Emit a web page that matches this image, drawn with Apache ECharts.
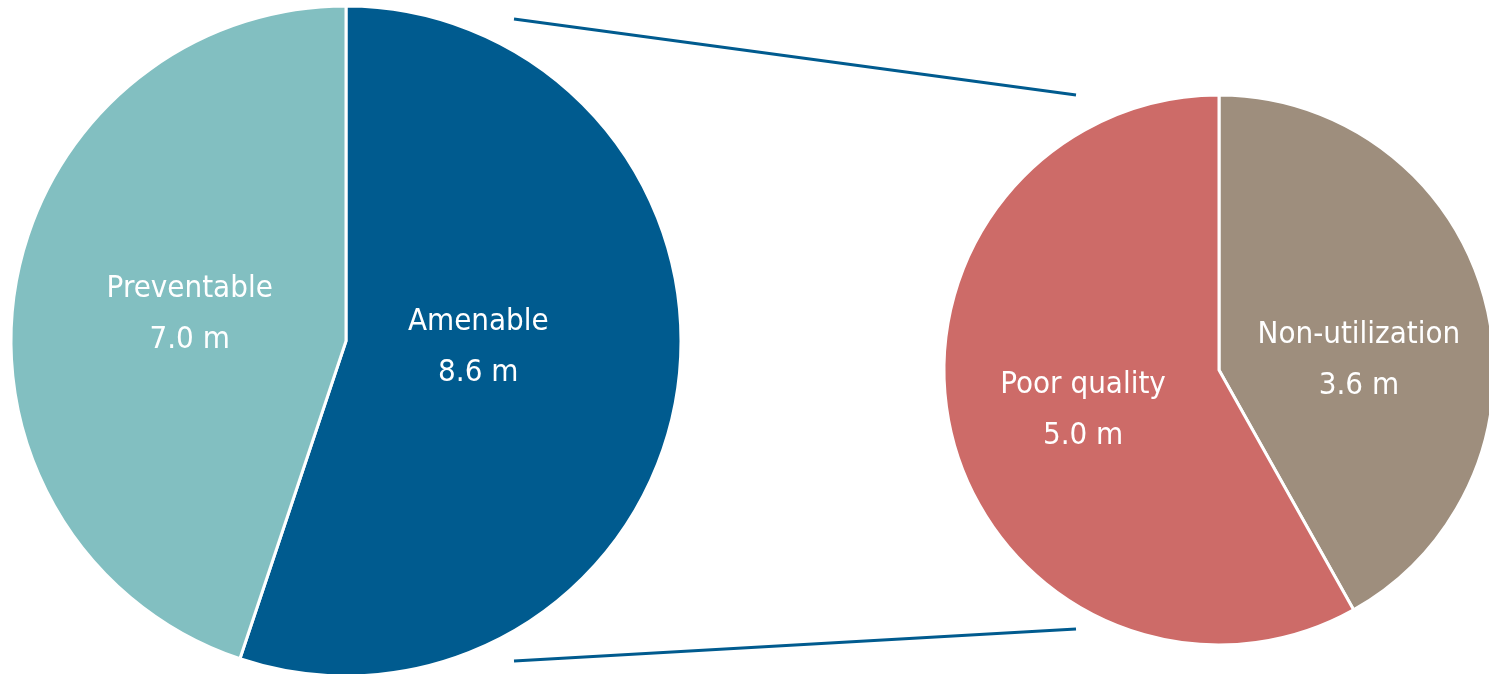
<!DOCTYPE html>
<html>
<head>
<meta charset="utf-8">
<script src="https://cdn.jsdelivr.net/npm/echarts@6/dist/echarts.min.js"></script>
<style>
  html, body { margin: 0; padding: 0; background: #ffffff; }
  #chart { width: 1489px; height: 674px; }
</style>
</head>
<body>
<div id="chart"></div>
<script>
// Deaths (millions): overall split and breakdown of the amenable share
const mainCategories = ['Amenable', 'Preventable'];
const mainValues = [8.6, 7.0];
const detailCategories = ['Non-utilization', 'Poor quality'];
const detailValues = [3.6, 5.0];

const mainColors = ['#005b8f', '#82bfc1'];
const detailColors = ['#9e8e7d', '#cd6b68'];
const labelOffsets = {
  'Amenable': [-36, -21],
  'Preventable': [12, 1],
  'Non-utilization': [4, 26],
  'Poor quality': [0, 5]
};

const FONT = '"DejaVu Sans Condensed", "Liberation Sans Narrow", sans-serif';

function buildData(names, values, colors) {
  return names.map((name, i) => ({
    name: name,
    value: values[i],
    itemStyle: { color: colors[i] },
    label: { offset: labelOffsets[name] }
  }));
}

const labelStyle = {
  show: true,
  position: 'inside',
  color: '#ffffff',
  fontFamily: FONT,
  fontSize: 31,
  lineHeight: 51,
  formatter: p => p.name + '\n' + p.value.toFixed(1) + ' m'
};

const chart = echarts.init(document.getElementById('chart'), null, { renderer: 'canvas' });
chart.setOption({
  backgroundColor: '#ffffff',
  animation: false,
  series: [
    {
      type: 'pie',
      center: [346, 341],
      radius: [0, 335],
      startAngle: 90,
      clockwise: true,
      itemStyle: { borderColor: '#ffffff', borderWidth: 3 },
      label: labelStyle,
      labelLine: { show: false },
      emphasis: { disabled: true },
      data: buildData(mainCategories, mainValues, mainColors)
    },
    {
      type: 'pie',
      center: [1219, 370],
      radius: [0, 275],
      startAngle: 90,
      clockwise: true,
      itemStyle: { borderColor: '#ffffff', borderWidth: 3 },
      label: labelStyle,
      labelLine: { show: false },
      emphasis: { disabled: true },
      data: buildData(detailCategories, detailValues, detailColors)
    }
  ],
  graphic: [
    // connector lines linking the amenable slice to its breakdown
    {
      type: 'line',
      shape: { x1: 514, y1: 19, x2: 1076, y2: 95 },
      style: { stroke: '#005b8f', lineWidth: 3 }
    },
    {
      type: 'line',
      shape: { x1: 514, y1: 661, x2: 1076, y2: 629 },
      style: { stroke: '#005b8f', lineWidth: 3 }
    }
  ]
});
</script>
</body>
</html>
